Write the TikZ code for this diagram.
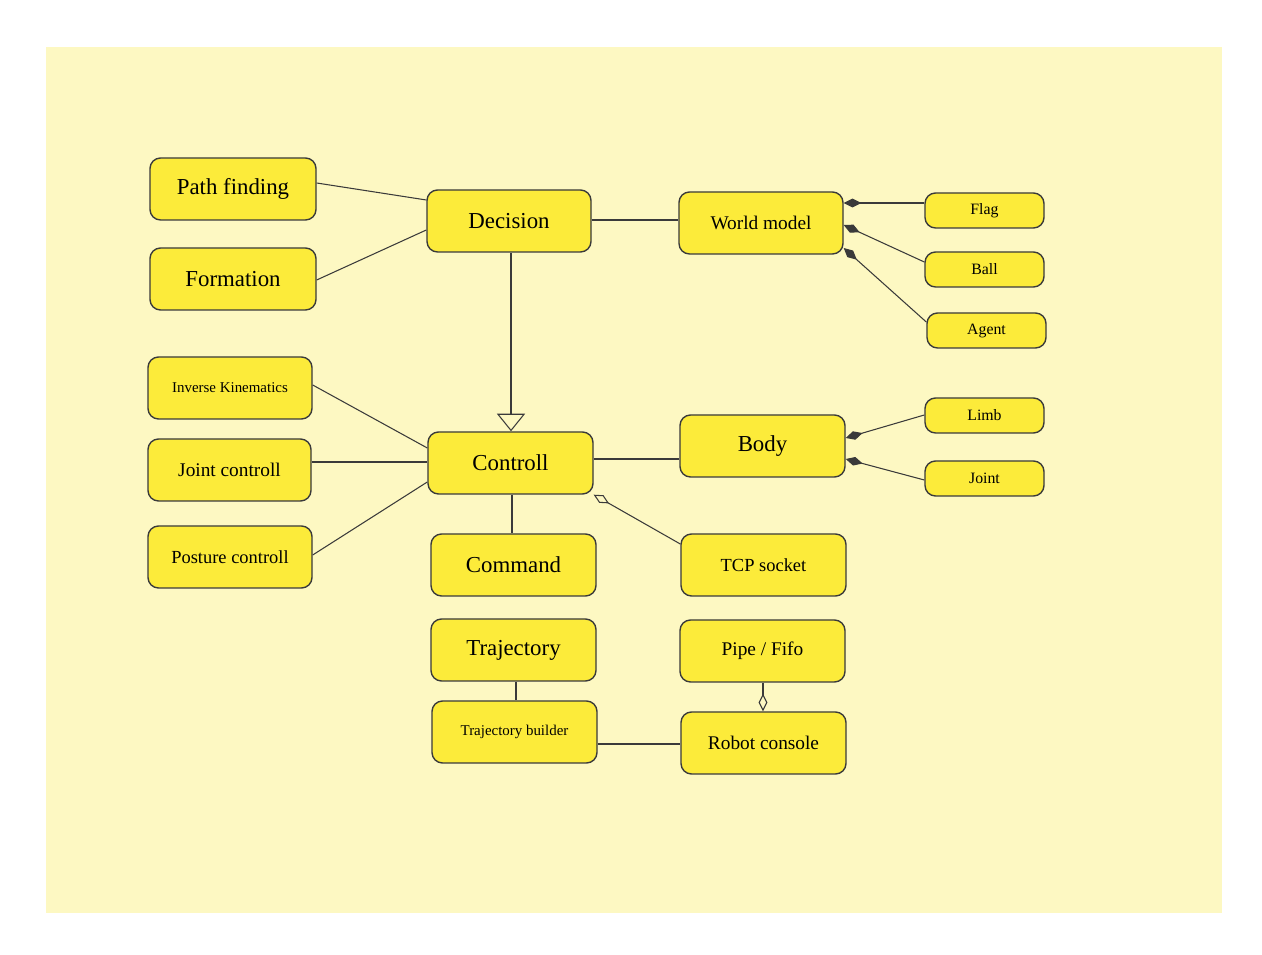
\documentclass[tikz,border=0pt]{standalone}
\usetikzlibrary{arrows.meta}
\usepackage{fontspec}
\setmainfont{Liberation Serif}
\definecolor{bgy}{HTML}{FDF8C2}
\definecolor{boxy}{HTML}{FCEB3A}
\definecolor{ln}{HTML}{3A3A3A}
\begin{document}
\begin{tikzpicture}[x=0.02cm,y=-0.02cm,
  box/.style={draw=ln,fill=boxy,rounded corners=6pt,line width=0.8pt,inner sep=0pt,font=\fontsize{#1}{#1}\selectfont},
  con/.style={draw=ln,line width=0.6pt},
  fdia/.style={con,-{Diamond[fill=ln,length=10pt,width=5pt]}},
  odia/.style={con,-{Diamond[open,fill=bgy,length=10pt,width=5pt]}}]
\useasboundingbox (0,0) rectangle (1262,955);
\fill[white] (0,0) rectangle (1262,955);
\fill[bgy] (46,47) rectangle (1222,913);
\newcommand{\bx}[7]{\node[box=#6,minimum width=#4*0.02cm,minimum height=#5*0.02cm] (#1) at (#2,#3) {#7};}
% name, cx, cy, w, h, fontsize, text
\bx{path}{233}{189}{166}{62}{13}{Path finding}
\bx{form}{233}{279}{166}{62}{13}{Formation}
\bx{dec}{509}{221}{164}{62}{13}{Decision}
\bx{wm}{761}{223}{164}{62}{11}{World model}
\bx{flag}{984.5}{210.5}{119}{35}{9}{Flag}
\bx{ball}{984.5}{269.5}{119}{35}{9}{Ball}
\bx{agent}{986.5}{330.5}{119}{35}{9}{Agent}
\bx{ik}{230}{388}{164}{62}{8.5}{Inverse Kinematics}
\bx{jc}{229.5}{470}{163}{62}{11}{Joint controll}
\bx{pc}{230}{557}{164}{62}{10.5}{Posture controll}
\bx{ctl}{510.5}{463}{165}{62}{13}{Controll}
\bx{body}{762.5}{446}{165}{62}{13}{Body}
\bx{limb}{984.5}{415.5}{119}{35}{9}{Limb}
\bx{joint}{984.5}{478.5}{119}{35}{9}{Joint}
\bx{cmd}{513.5}{565}{165}{62}{13}{Command}
\bx{tcp}{763.5}{565}{165}{62}{10.5}{TCP socket}
\bx{traj}{513.5}{650}{165}{62}{13}{Trajectory}
\bx{pipe}{762.5}{651}{165}{62}{11}{Pipe / Fifo}
\bx{tb}{514.5}{732}{165}{62}{8.5}{Trajectory builder}
\bx{rc}{763.5}{743}{165}{62}{11}{Robot console}
% connectors
\draw[con] (path.east|-0,183) -- (dec.west|-0,200);
\draw[con] (form.east|-0,280) -- (dec.west|-0,230);
\draw[con] (dec.east|-0,220) -- (wm.west|-0,220);
\draw[con,-{Triangle[open,fill=bgy,length=10pt,width=16pt]}] (dec.south-|511,0) -- (ctl.north-|511,0);
\draw[fdia] (flag.west|-0,203) -- (wm.east|-0,203);
\draw[fdia] (ball.west|-0,262) -- (wm.east|-0,225);
\draw[fdia] (agent.west|-0,322) -- (wm.east|-0,248);
\draw[con] (ik.east|-0,385) -- (ctl.west|-0,448);
\draw[con] (jc.east|-0,462) -- (ctl.west|-0,462);
\draw[con] (pc.east|-0,555) -- (ctl.west|-0,482);
\draw[con] (ctl.east|-0,459) -- (body.west|-0,459);
\draw[con] (ctl.south-|512,0) -- (cmd.north-|512,0);
\draw[odia] (tcp.west|-0,544) -- (ctl.south east);
\draw[fdia] (limb.west|-0,415) -- (body.east|-0,438);
\draw[fdia] (joint.west|-0,480) -- (body.east|-0,459);
\draw[con] (traj.south-|516,0) -- (tb.north-|516,0);
\draw[odia] (pipe.south-|763,0) -- (rc.north-|763,0);
\draw[con] (tb.east|-0,744) -- (rc.west|-0,744);
\end{tikzpicture}
\end{document}
